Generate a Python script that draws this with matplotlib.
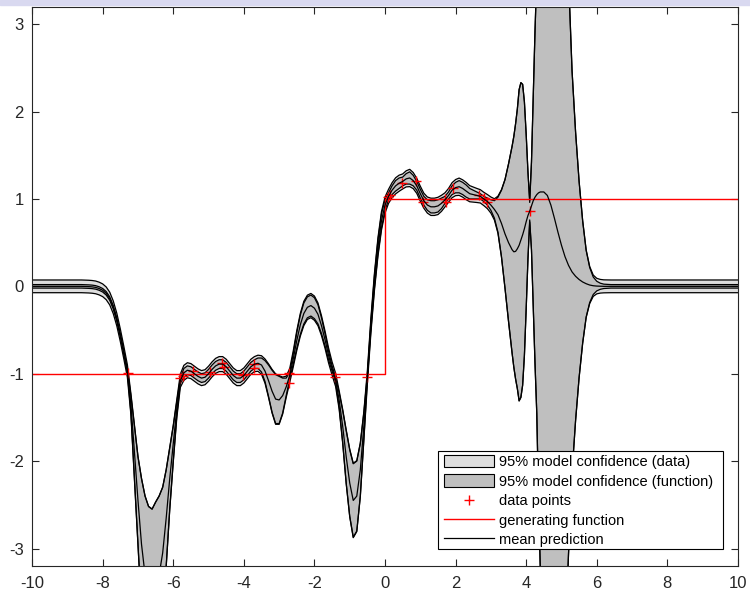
import numpy as np
import matplotlib.pyplot as plt
from matplotlib.patches import Patch, Rectangle
from matplotlib.lines import Line2D

plt.rcParams['font.family'] = ['Liberation Sans', 'DejaVu Sans']
plt.rcParams['axes.unicode_minus'] = False

# test inputs
xs = [-10, -9.0, -8.6, -8.4, -8.3, -8.2, -8.1, -8.0, -7.9, -7.8, -7.7, -7.6, -7.5, -7.4, -7.3,
      -7.2, -7.1, -7.0, -6.9, -6.8, -6.7, -6.6, -6.5, -6.4, -6.3, -6.2, -6.1, -6.0, -5.9, -5.8,
      -5.7, -5.6, -5.5, -5.4, -5.3, -5.2, -5.1, -5.0, -4.9, -4.8, -4.7, -4.6, -4.5, -4.4, -4.3,
      -4.2, -4.1, -4.0, -3.9, -3.8, -3.7, -3.6, -3.5, -3.4, -3.3, -3.2, -3.1, -3.0, -2.9, -2.8,
      -2.7, -2.6, -2.5, -2.4, -2.3, -2.2, -2.1, -2.0, -1.9, -1.8, -1.7, -1.6, -1.5, -1.4, -1.3,
      -1.2, -1.1, -1.0, -0.9, -0.8, -0.7, -0.6, -0.5, -0.4, -0.3, -0.2, -0.1, 0.0, 0.1, 0.2,
      0.3, 0.4, 0.5, 0.6, 0.7, 0.8, 0.9, 1.0, 1.1, 1.2, 1.3, 1.4, 1.5, 1.6, 1.7,
      1.8, 1.9, 2.0, 2.1, 2.2, 2.3, 2.4, 2.5, 2.6, 2.7, 2.8, 2.9, 3.0, 3.1, 3.2,
      3.3, 3.4, 3.5, 3.6, 3.65, 3.7, 3.75, 3.8, 3.85, 3.9, 3.95, 4.0, 4.05, 4.1, 4.15,
      4.2, 4.25, 4.3, 4.35, 4.4, 4.5, 4.6, 4.7, 4.8, 4.9, 5.0, 5.1, 5.2, 5.3, 5.4,
      5.5, 5.6, 5.7, 5.8, 5.9, 6.0, 6.1, 6.2, 6.4, 7.0, 8.0, 9.0, 10]

# mean prediction
mu = [0, 0, 0, -0.003, -0.006, -0.012, -0.025, -0.045, -0.08, -0.14, -0.24, -0.38, -0.56, -0.76, -0.97,
      -1.35, -1.9, -2.45, -2.95, -3.3, -3.5, -3.55, -3.45, -3.3, -3.05, -2.65, -2.2, -1.8, -1.4, -1.08,
      -0.99, -0.96, -0.97, -1.0, -1.03, -1.05, -1.04, -1.0, -0.95, -0.91, -0.89, -0.89, -0.92, -0.97, -1.02,
      -1.05, -1.05, -1.02, -0.97, -0.92, -0.89, -0.88, -0.9, -0.97, -1.08, -1.2, -1.29, -1.3, -1.25, -1.15,
      -1.02, -0.83, -0.62, -0.44, -0.31, -0.24, -0.22, -0.25, -0.32, -0.45, -0.61, -0.79, -0.94, -1.07, -1.3,
      -1.6, -1.95, -2.25, -2.45, -2.4, -2.1, -1.6, -1.04, -0.45, 0.05, 0.45, 0.75, 0.93, 1.03, 1.1,
      1.15, 1.18, 1.2, 1.23, 1.24, 1.21, 1.15, 1.06, 0.98, 0.93, 0.91, 0.91, 0.92, 0.95, 0.99,
      1.04, 1.1, 1.13, 1.14, 1.12, 1.09, 1.06, 1.05, 1.04, 1.03, 1.0, 0.97, 0.93, 0.88, 0.82,
      0.72, 0.6, 0.5, 0.42, 0.395, 0.4, 0.43, 0.47, 0.53, 0.59, 0.66, 0.74, 0.81, 0.86, 0.92,
      0.98, 1.02, 1.05, 1.07, 1.08, 1.08, 1.04, 0.93, 0.78, 0.62, 0.47, 0.34, 0.24, 0.165, 0.115,
      0.078, 0.05, 0.03, 0.015, 0.007, 0.003, 0.001, 0, 0, 0, 0, 0, 0]

# 95% half width, function
sf = [0.02, 0.02, 0.02, 0.02, 0.02, 0.02, 0.02, 0.02, 0.02, 0.02, 0.02, 0.02, 0.02, 0.02, 0.02,
      0.1, 0.3, 0.5, 0.75, 0.9, 0.98, 1.0, 0.98, 0.9, 0.75, 0.55, 0.35, 0.2, 0.08, 0.03,
      0.05, 0.05, 0.05, 0.05, 0.05, 0.05, 0.05, 0.05, 0.05, 0.05, 0.05, 0.05, 0.05, 0.05, 0.05,
      0.05, 0.05, 0.05, 0.05, 0.05, 0.05, 0.06, 0.08, 0.12, 0.18, 0.24, 0.28, 0.27, 0.2, 0.1,
      0.04, 0.06, 0.09, 0.11, 0.12, 0.12, 0.12, 0.12, 0.11, 0.09, 0.07, 0.05, 0.03, 0.03, 0.08,
      0.18, 0.3, 0.38, 0.42, 0.4, 0.3, 0.15, 0.03, 0.05, 0.07, 0.08, 0.08, 0.06, 0.04, 0.05,
      0.06, 0.06, 0.05, 0.06, 0.07, 0.06, 0.05, 0.05, 0.05, 0.06, 0.07, 0.07, 0.07, 0.06, 0.04,
      0.04, 0.05, 0.06, 0.07, 0.07, 0.07, 0.06, 0.05, 0.04, 0.03, 0.03, 0.04, 0.06, 0.1, 0.2,
      0.38, 0.62, 0.9, 1.18, 1.32, 1.46, 1.6, 1.78, 1.8, 1.72, 1.45, 1.0, 0.5, 0.1, 0.5,
      1.2, 1.9, 2.5, 3.5, 4.3, 6.0, 7.5, 8.0, 8.0, 7.0, 6.0, 4.5, 3.3, 2.3, 1.65,
      1.12, 0.7, 0.38, 0.2, 0.1, 0.055, 0.035, 0.025, 0.02, 0.02, 0.02, 0.02, 0.02]

# 95% half width of the noise
sn = 0.07

px = [-7.27, -5.80, -5.72, -5.45, -4.97, -4.63, -4.55, -4.01, -3.72, -3.70, -2.71, -2.73, -1.42,
      -0.50, 0.09, 0.14, 0.47, 0.87, 1.09, 1.70, 1.73, 1.94, 2.66, 2.80, 2.88, 4.11]
py = [-0.99, -1.05, -1.03, -0.97, -0.98, -0.88, -0.92, -1.01, -0.93, -0.885, -0.99, -1.11, -1.04,
      -1.04, 1.02, 1.05, 1.18, 1.21, 0.96, 1.00, 0.97, 1.13, 1.05, 1.01, 0.97, 0.86]

gx = [-10, 0, 0, 10]
gy = [-1, -1, 1, 1]

x = np.array(xs)
m = np.array(mu)
s1 = np.array(sf)
s2 = np.sqrt(s1**2 + sn**2)

W, H = 750, 591
fig = plt.figure(figsize=(W / 100, H / 100), dpi=100)
fig.patches.append(Rectangle((0, 1 - 5/H), 1, 5/H, transform=fig.transFigure,
                             color='#d9d9f0', zorder=0))
ax = fig.add_axes([0.0428, 0.0423, 0.9411, 0.9464])

ax.fill_between(x, m - s2, m + s2, facecolor='#dedede', edgecolor='none')
ax.fill_between(x, m - s1, m + s1, facecolor='#bfbfbf', edgecolor='none')
for yy in [m + s2, m - s2, m + s1, m - s1]:
    ax.plot(x, yy, color='k', lw=0.9)
ax.plot(px, py, 'r+', ms=7, mew=1)
ax.plot(gx, gy, color='r', lw=1)
ax.plot(x, m, color='k', lw=0.9)

ax.set_xlim(-10, 10)
ax.set_ylim(-3.2, 3.2)
ax.set_xticks(range(-10, 11, 2))
ax.set_yticks(range(-3, 4))
ax.tick_params(direction='in', top=True, right=True, length=5, width=0.8,
               labelsize=12, colors='#262626')
ax.tick_params(axis='x', pad=7)
ax.tick_params(axis='y', pad=6)
for sp in ax.spines.values():
    sp.set_linewidth(0.8)
    sp.set_color('#262626')

# legend box, drawn by hand (MATLAB style padding)
frame = Rectangle((438 / W, 1 - 549 / H), (723 - 438) / W, (549 - 451) / H,
                  transform=fig.transFigure, facecolor='white', edgecolor='k',
                  lw=0.8, zorder=4.5)
fig.patches.append(frame)

handles = [Patch(facecolor='#dedede', edgecolor='k', lw=0.8),
           Patch(facecolor='#bfbfbf', edgecolor='k', lw=0.8),
           Line2D([], [], color='r', marker='+', ls='none', ms=7),
           Line2D([], [], color='r', lw=1),
           Line2D([], [], color='k', lw=0.9)]
labels = ['95% model confidence (data)', '95% model confidence (function)',
          'data points', 'generating function', 'mean prediction']
leg = fig.legend(handles, labels, loc='upper left', bbox_to_anchor=(444 / W, 1 - 455 / H),
                 fontsize=10.5, frameon=False, handlelength=3.45, handleheight=0.93,
                 labelspacing=0.36, borderpad=0, handletextpad=0.3, borderaxespad=0)
leg.set_zorder(5)

fig.savefig('out.png', dpi=100)
